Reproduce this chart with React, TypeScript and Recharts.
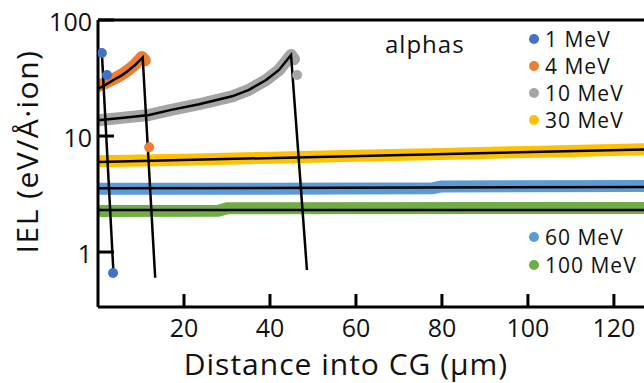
import {
  ComposedChart,
  Line,
  Scatter,
  XAxis,
  YAxis,
  ReferenceLine,
  Legend,
  Label,
} from 'recharts';

const FONT = '"Open Sans", "Liberation Sans", sans-serif';

// series labels and colours (Office palette)
const SERIES_NAMES = ['1 MeV', '4 MeV', '10 MeV', '30 MeV', '60 MeV', '100 MeV'];
const SERIES_COLORS = ['#4472C4', '#ED7D31', '#A5A5A5', '#FFC000', '#5B9BD5', '#70AD47'];

const X_TICKS = [20, 40, 60, 80, 100, 120];
const Y_TICKS = [1, 10, 100];

// 1 MeV: only a few points
const MEV1_X = [0.9, 2.1, 3.5];
const MEV1_Y = [52, 33.6, 0.66];
const FIT1_X = [0.9, 3.6];
const FIT1_Y = [52, 0.66];

// 4 MeV
const MEV4_X = [0, 2, 4, 5.6, 7, 8.5, 9.5, 10.2, 10.9];
const MEV4_Y = [27, 29, 31.5, 34, 37, 41, 45, 48, 45];
const MEV4_END_X = [11.9];
const MEV4_END_Y = [8.0];
const FIT4_X = [0, 2, 4, 5.6, 7, 8.5, 9.5, 10.4, 13.3];
const FIT4_Y = [25.5, 28, 31, 33.5, 36.5, 40.5, 44, 47.5, 0.6];

// 10 MeV
const MEV10_X = [0, 6, 11.9, 17, 23.5, 31.2, 35.1, 39.1, 42.1, 44.9, 45.6];
const MEV10_Y = [13.7, 14.4, 15.2, 16.8, 18.8, 22, 25, 30.4, 37.1, 49.9, 46];
const MEV10_END_X = [46.3];
const MEV10_END_Y = [33.6];
const FIT10_X = [0, 6, 11.9, 17, 23.5, 31.2, 35.1, 39.1, 42.1, 44.9, 48.6];
const FIT10_Y = [13.7, 14.4, 15.2, 16.8, 18.8, 22, 25, 30.4, 37.1, 49.9, 0.7];

// 30 MeV
const MEV30_X = [0, 20, 40, 60, 80, 100, 127];
const MEV30_Y = [6.05, 6.25, 6.5, 6.75, 7.0, 7.3, 7.7];
const FIT30_X = [0, 127];
const FIT30_Y = [5.97, 7.67];

// 60 MeV
const MEV60_X = [0, 40, 78, 80, 127];
const MEV60_Y = [3.52, 3.52, 3.55, 3.68, 3.7];
const FIT60_X = [0, 127];
const FIT60_Y = [3.55, 3.63];

// 100 MeV
const MEV100_X = [0, 28, 30, 127];
const MEV100_Y = [2.26, 2.27, 2.38, 2.4];
const FIT100_X = [0, 127];
const FIT100_Y = [2.3, 2.3];

const pts = (xs: number[], ys: number[]) => xs.map((x, i) => ({ x, y: ys[i] }));

const bands = [
  { key: 'b4', color: SERIES_COLORS[1], data: pts(MEV4_X, MEV4_Y) },
  { key: 'b10', color: SERIES_COLORS[2], data: pts(MEV10_X, MEV10_Y) },
  { key: 'b30', color: SERIES_COLORS[3], data: pts(MEV30_X, MEV30_Y) },
  { key: 'b60', color: SERIES_COLORS[4], data: pts(MEV60_X, MEV60_Y) },
  { key: 'b100', color: SERIES_COLORS[5], data: pts(MEV100_X, MEV100_Y) },
];

const dots = [
  { key: 'd1', color: SERIES_COLORS[0], data: pts(MEV1_X, MEV1_Y) },
  { key: 'd4', color: SERIES_COLORS[1], data: pts(MEV4_END_X, MEV4_END_Y) },
  { key: 'd10', color: SERIES_COLORS[2], data: pts(MEV10_END_X, MEV10_END_Y) },
];

const fits = [
  pts(FIT1_X, FIT1_Y),
  pts(FIT4_X, FIT4_Y),
  pts(FIT10_X, FIT10_Y),
  pts(FIT30_X, FIT30_Y),
  pts(FIT60_X, FIT60_Y),
  pts(FIT100_X, FIT100_Y),
];

const XTick = (props: any) => {
  const { x, y, payload } = props;
  return (
    <g>
      <line x1={x} y1={y} x2={x} y2={y - 13} stroke="#000" strokeWidth={3} />
      <text x={x} y={y + 30} textAnchor="middle" fontFamily={FONT} fontSize={25} fill="#111">
        {payload.value}
      </text>
    </g>
  );
};

const YTick = (props: any) => {
  const { x, y, payload } = props;
  return (
    <g>
      <line x1={x} y1={y} x2={x + 16} y2={y} stroke="#000" strokeWidth={3} />
      <text x={x - 6} y={y + 11} textAnchor="end" fontFamily={FONT} fontSize={25} fill="#111">
        {payload.value}
      </text>
    </g>
  );
};

// legend: two groups at the right side, plus the "alphas" note
const LegendBox = () => {
  const top = [0, 1, 2, 3];
  const bottom = [4, 5];
  const item = (i: number, base: number) => (
    <g key={i}>
      <circle cx={534} cy={base - 8} r={5} fill={SERIES_COLORS[i]} />
      <text x={545} y={base} fontFamily={FONT} fontSize={21} letterSpacing={1} fill="#111">
        {SERIES_NAMES[i]}
      </text>
    </g>
  );
  return (
    <svg width={644} height={383} style={{ display: 'block' }}>
      <text x={385} y={53} fontFamily={FONT} fontSize={24} letterSpacing={1} fill="#111">
        alphas
      </text>
      {top.map((i, k) => item(i, 47 + k * 27))}
      {bottom.map((i, k) => item(i, 245 + k * 28))}
    </svg>
  );
};

export default function App() {
  return (
    <div style={{ position: 'absolute', left: 0, top: 0, background: '#fff', fontFamily: FONT }}>
      <ComposedChart width={644} height={383} margin={{ top: 20, right: 0, bottom: 0, left: 0 }}>
        <XAxis
          type="number"
          dataKey="x"
          domain={[0, 127]}
          allowDataOverflow
          ticks={X_TICKS}
          interval={0}
          height={76}
          tickSize={0}
          tickMargin={0}
          tickLine={false}
          axisLine={{ stroke: '#000', strokeWidth: 3 }}
          tick={<XTick />}
          label={
            <Label
              content={(p: any) => {
                const vb = p.viewBox || { x: 98, y: 307, width: 546 };
                return (
                  <text
                    x={vb.x + vb.width / 2 - 25}
                    y={vb.y + 68}
                    textAnchor="middle"
                    fontFamily={FONT}
                    fontSize={30}
                    letterSpacing={1}
                    fill="#111"
                  >
                    Distance into CG (µm)
                  </text>
                );
              }}
            />
          }
        />
        <YAxis
          type="number"
          dataKey="y"
          scale="log"
          domain={[0.336, 100]}
          allowDataOverflow
          ticks={Y_TICKS}
          interval={0}
          width={98}
          tickSize={0}
          tickMargin={0}
          tickLine={false}
          axisLine={{ stroke: '#000', strokeWidth: 3 }}
          tick={<YTick />}
          label={
            <Label
              content={(p: any) => {
                const vb = p.viewBox || { x: 0, y: 20, height: 287 };
                const cx = 38;
                const cy = vb.y + vb.height / 2 - 12;
                return (
                  <text
                    x={cx}
                    y={cy}
                    transform={`rotate(-90 ${cx} ${cy})`}
                    textAnchor="middle"
                    fontFamily={FONT}
                    fontSize={30}
                    letterSpacing={1.5}
                    fill="#111"
                  >
                    IEL (eV/Å·ion)
                  </text>
                );
              }}
            />
          }
        />
        <ReferenceLine y={100} stroke="#000" strokeWidth={3} ifOverflow="visible" />

        {bands.map((b) => (
          <Line
            key={b.key}
            data={b.data}
            dataKey="y"
            type="linear"
            stroke={b.color}
            strokeWidth={12}
            strokeLinecap="round"
            strokeLinejoin="round"
            dot={false}
            activeDot={false}
            legendType="none"
            isAnimationActive={false}
          />
        ))}

        {dots.map((d) => (
          <Scatter
            key={d.key}
            data={d.data}
            dataKey="y"
            fill={d.color}
            legendType="none"
            isAnimationActive={false}
            shape={(p: any) => <circle cx={p.cx} cy={p.cy} r={5} fill={d.color} />}
          />
        ))}

        {fits.map((f, i) => (
          <Line
            key={'fit' + i}
            data={f}
            dataKey="y"
            type="linear"
            stroke="#000"
            strokeWidth={2.5}
            dot={false}
            activeDot={false}
            legendType="none"
            isAnimationActive={false}
          />
        ))}

        <Legend
          layout="horizontal"
          verticalAlign="middle"
          align="center"
          content={() => <LegendBox />}
          wrapperStyle={{ left: 0, top: 0, width: 644, height: 383, margin: 0, pointerEvents: 'none' }}
        />
      </ComposedChart>
    </div>
  );
}
